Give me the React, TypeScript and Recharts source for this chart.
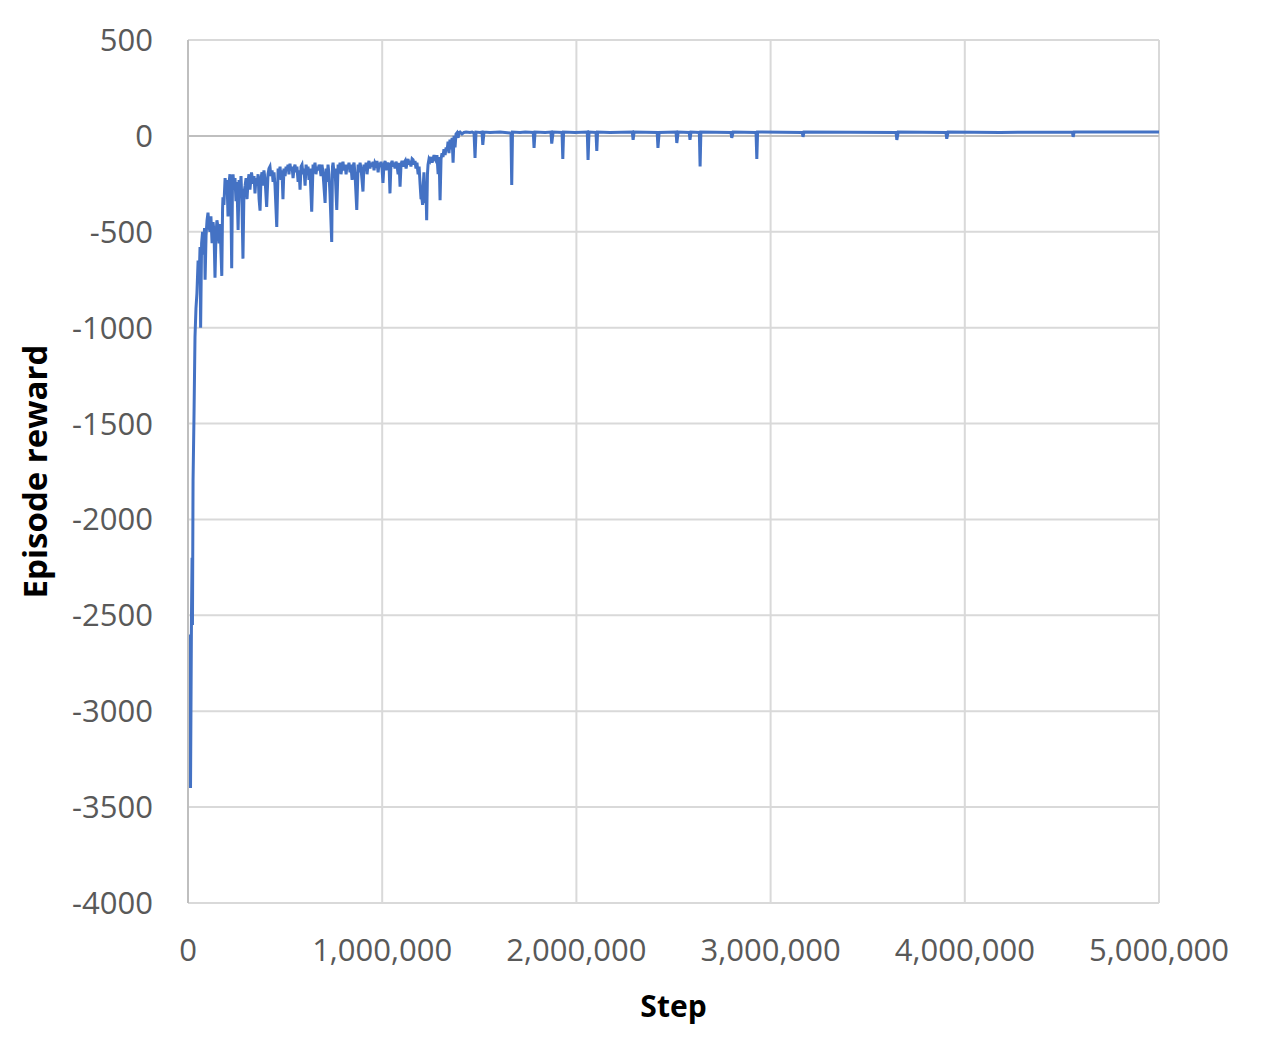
import React from 'react';
import { LineChart, Line, XAxis, YAxis, CartesianGrid, ReferenceLine, Label } from 'recharts';

// [step, episode reward]
const warmupPhase: [number, number][] = [
  [3000, -2600], [5000, -3100], [8000, -2700], [13000, -3400], [18000, -2500],
  [21000, -2200], [23000, -2550], [26000, -1800], [31000, -1450], [36000, -1050],
  [41000, -900], [46000, -820], [52000, -650], [57000, -760], [62000, -580],
  [65000, -1000], [70000, -560], [75000, -500], [80000, -620], [85000, -480],
  [88000, -750], [93000, -520], [98000, -440], [103000, -400], [108000, -470],
  [113000, -500], [118000, -420], [124000, -560], [129000, -450], [134000, -500],
  [139000, -740], [144000, -520], [149000, -440], [155000, -480], [160000, -560],
  [165000, -460], [174000, -730], [178000, -380], [180000, -320], [185000, -360],
];

const noisyPhase: [number, number][] = [
  [191000, -220], [196000, -280], [201000, -230], [206000, -420], [211000, -250],
  [216000, -200], [221000, -350], [225000, -690], [229000, -260], [232000, -200],
  [237000, -280], [242000, -220], [247000, -340], [252000, -240], [258000, -490],
  [263000, -230], [268000, -300], [273000, -210], [278000, -360], [283000, -640],
  [288000, -300], [294000, -260], [299000, -220], [304000, -330], [309000, -240],
  [314000, -200], [319000, -280], [327000, -190], [335000, -250], [340000, -210],
  [345000, -300], [350000, -220], [355000, -260], [361000, -200], [366000, -330],
  [371000, -390], [376000, -220], [381000, -190], [386000, -260], [391000, -180],
  [397000, -230], [405000, -370], [412000, -200], [417000, -170], [422000, -160],
  [427000, -210], [433000, -180], [438000, -240], [443000, -190], [448000, -260],
  [457000, -475], [464000, -170], [469000, -200], [474000, -160], [479000, -230],
  [484000, -180], [489000, -330], [494000, -170], [500000, -210], [505000, -160],
  [510000, -180], [515000, -150], [520000, -200], [525000, -145], [530000, -180],
  [536000, -160], [541000, -220], [546000, -170], [551000, -150], [556000, -190],
  [561000, -160], [567000, -240], [572000, -180], [577000, -280], [582000, -160],
  [587000, -150], [592000, -200], [597000, -170], [603000, -260], [608000, -150],
  [613000, -180], [618000, -160], [623000, -230], [628000, -170], [637000, -395],
  [644000, -150], [649000, -170], [654000, -140], [659000, -200], [664000, -160],
  [670000, -180], [675000, -150], [680000, -170], [685000, -210], [690000, -150],
  [695000, -190], [706000, -350], [711000, -170], [716000, -240], [721000, -150],
  [726000, -200], [731000, -300], [740000, -553], [744000, -160], [747000, -140],
  [752000, -200], [757000, -170], [766000, -386], [773000, -150], [778000, -180],
  [783000, -140], [788000, -200], [793000, -160], [798000, -135], [803000, -180],
  [809000, -150], [814000, -200], [819000, -150], [824000, -170], [829000, -140],
  [834000, -190], [839000, -150], [845000, -230], [850000, -160], [855000, -140],
  [860000, -200], [869000, -386], [876000, -150], [881000, -190], [886000, -140],
  [891000, -170], [896000, -230], [901000, -290], [906000, -150], [912000, -180],
  [917000, -140], [922000, -200], [927000, -150], [932000, -130], [937000, -170],
  [942000, -140], [948000, -160], [953000, -135], [958000, -180], [963000, -140],
  [968000, -150], [973000, -130], [979000, -190], [984000, -140], [989000, -160],
  [994000, -135], [999000, -170], [1004000, -245], [1009000, -150], [1015000, -130],
  [1020000, -180], [1025000, -140], [1030000, -160], [1035000, -140], [1040000, -300],
  [1045000, -150], [1051000, -130], [1056000, -160], [1061000, -140], [1066000, -170],
  [1071000, -135], [1076000, -150], [1082000, -200], [1087000, -140], [1092000, -265],
  [1097000, -150], [1102000, -130], [1107000, -160], [1112000, -140], [1118000, -130],
  [1123000, -170], [1128000, -140], [1133000, -120], [1138000, -150], [1143000, -130],
  [1148000, -160], [1154000, -120], [1159000, -125], [1164000, -150], [1169000, -130],
  [1174000, -170], [1179000, -140], [1185000, -200], [1190000, -160], [1195000, -250],
  [1200000, -330], [1204000, -320], [1208000, -360], [1210000, -280], [1215000, -190],
  [1221000, -350], [1226000, -300], [1229000, -440], [1233000, -200], [1236000, -150],
  [1241000, -120], [1246000, -130], [1251000, -110], [1257000, -140], [1262000, -120],
  [1267000, -100], [1272000, -120], [1277000, -130], [1282000, -100], [1288000, -200],
  [1293000, -110], [1298000, -335], [1303000, -120], [1308000, -90], [1313000, -110],
  [1318000, -70], [1324000, -100], [1329000, -60], [1334000, -80], [1339000, -30],
  [1344000, -90], [1349000, -20], [1354000, -70], [1360000, -10], [1365000, -140],
  [1370000, 0], [1375000, -60], [1380000, 10], [1385000, 16], [1391000, -10],
  [1396000, 18],
];

const plateauPhase: [number, number][] = [
  [1401000, 20], [1411000, 10], [1421000, 18], [1432000, 20], [1452000, 18],
  [1463000, 20], [1473000, 15], [1478000, -115], [1483000, 20], [1504000, 18],
  [1514000, 20], [1518000, -47], [1524000, 20], [1555000, 18], [1607000, 20],
  [1663000, 15], [1667000, -256], [1671000, 20], [1710000, 18], [1736000, 20],
  [1778000, 18], [1782000, -63], [1787000, 20], [1839000, 18], [1869000, 20],
  [1873000, -40], [1880000, 20], [1926000, 18], [1930000, -120], [1934000, 20],
  [1993000, 18], [2056000, 20], [2060000, -125], [2065000, 20], [2101000, 18],
  [2105000, -78], [2109000, 20], [2173000, 18], [2288000, 20], [2292000, -21],
  [2297000, 20], [2416000, 18], [2420000, -63], [2426000, 18], [2513000, 20],
  [2517000, -37], [2524000, 20], [2581000, 18], [2585000, -21], [2590000, 20],
  [2633000, 18], [2637000, -160], [2641000, 20], [2796000, 18], [2800000, -10],
  [2807000, 20], [2925000, 18], [2929000, -120], [2933000, 20], [3163000, 18],
  [3167000, -5], [3172000, 20], [3646000, 18], [3650000, -21], [3657000, 20],
  [3903000, 18], [3907000, -15], [3914000, 20], [4182000, 18], [4554000, 20],
  [4558000, -5], [4563000, 20], [5000000, 20],
];

const xTicks = [0, 1000000, 2000000, 3000000, 4000000, 5000000];
const yTicks = [500, 0, -500, -1000, -1500, -2000, -2500, -3000, -3500, -4000];

const data = [...warmupPhase, ...noisyPhase, ...plateauPhase].map(([step, reward]) => ({ step, reward }));

const tickStyle = { fill: '#595959', fontSize: 31, fontFamily: 'Open Sans' };

export default function App() {
  return (
    <LineChart width={1250} height={1040} data={data} margin={{ top: 32, right: 99, bottom: 115, left: 0 }}>
      <CartesianGrid stroke="#d9d9d9" strokeWidth={2} />
      <XAxis
        dataKey="step"
        type="number"
        domain={[0, 5000000]}
        ticks={xTicks}
        tickFormatter={(v: number) => v.toLocaleString('en-US')}
        tick={tickStyle}
        tickLine={false}
        axisLine={false}
        tickSize={0}
        tickMargin={36}
        interval={0}
      >
        <Label value="Step" position="bottom" offset={63} style={{ fill: '#000', fontSize: 30, fontWeight: 'bold', fontFamily: 'Open Sans' }} />
      </XAxis>
      <YAxis
        type="number"
        domain={[-4000, 500]}
        ticks={yTicks}
        tick={tickStyle}
        tickLine={false}
        axisLine={{ stroke: '#bfbfbf', strokeWidth: 2 }}
        tickSize={0}
        tickMargin={35}
        width={180}
        interval={0}
      >
        <Label value="Episode reward" angle={-90} position="insideLeft" offset={27} style={{ fill: '#000', fontSize: 33, fontWeight: 'bold', fontFamily: 'Open Sans', textAnchor: 'middle' }} />
      </YAxis>
      <ReferenceLine y={0} stroke="#bfbfbf" strokeWidth={2} />
      <Line type="linear" dataKey="reward" stroke="#4472c4" strokeWidth={3} dot={false} isAnimationActive={false} />
    </LineChart>
  );
}
